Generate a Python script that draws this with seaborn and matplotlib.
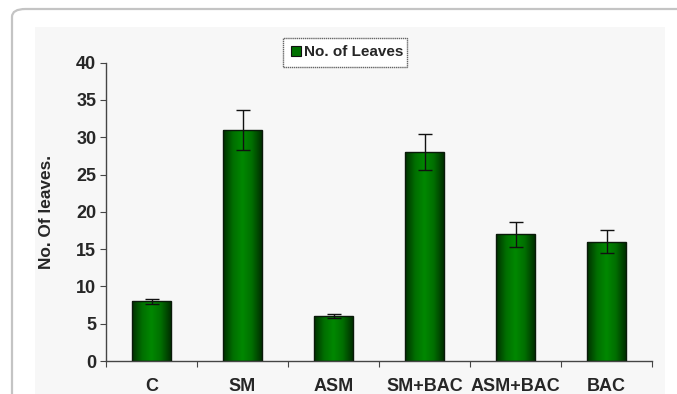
import numpy as np
import pandas as pd
import matplotlib
matplotlib.use("Agg")
import matplotlib.pyplot as plt
import seaborn as sns
from matplotlib.patches import Rectangle, FancyBboxPatch
from matplotlib.colors import LinearSegmentedColormap
from matplotlib.ticker import MultipleLocator, FixedLocator

# data
groups = ["C", "SM", "ASM", "SM+BAC", "ASM+BAC", "BAC"]
leaves = [8.0, 31.0, 6.0, 28.0, 17.0, 16.0]
leaves_err = [0.35, 2.7, 0.3, 2.4, 1.7, 1.55]
series_name = "No. of Leaves"

df = pd.DataFrame({"group": groups, "leaves": leaves})

sns.set_style("white")
plt.rcParams["font.family"] = ["Liberation Sans", "DejaVu Sans"]
plt.rcParams["font.weight"] = "bold"

fig = plt.figure(figsize=(6.77, 3.94), dpi=100)
W, H = 677, 394

# outer rounded border and light grey plot panel (behind the axes)
fig.patches.append(FancyBboxPatch((12 / W, -0.2), 1.2, (394 - 9) / H + 0.2,
                                  boxstyle="round,pad=0,rounding_size=0.02",
                                  transform=fig.transFigure, facecolor="white",
                                  edgecolor="#c4c4c4", linewidth=1.6, zorder=-2))
fig.patches.append(Rectangle((35 / W, 0), (665 - 35) / W, (394 - 27) / H,
                             transform=fig.transFigure, facecolor="#f7f7f7",
                             edgecolor="none", zorder=-1))

ax = fig.add_axes([106 / W, (H - 361) / H, (652 - 106) / W, (361 - 62.7) / H])
ax.set_facecolor("none")
ax.set_zorder(1)

sns.barplot(data=df, x="group", y="leaves", color="#006400", width=0.42,
            errorbar=None, ax=ax, zorder=2)

# cylinder-like green shading inside each bar
cmap = LinearSegmentedColormap.from_list("cyl", ["#003000", "#006e00", "#008800", "#006e00", "#003000"])
grad = np.linspace(0, 1, 64).reshape(1, -1)
for p in ax.patches:
    x0, w, h = p.get_x(), p.get_width(), p.get_height()
    p.set_facecolor("none")
    p.set_edgecolor("#0a1a0a")
    p.set_linewidth(1.0)
    p.set_zorder(3)
    im = ax.imshow(grad, cmap=cmap, aspect="auto", extent=[x0, x0 + w, 0, h],
                   zorder=2.5, interpolation="bicubic")
    im.set_clip_path(p)

ax.errorbar(range(len(groups)), leaves, yerr=leaves_err, fmt="none",
            ecolor="#111111", elinewidth=1.0, capsize=5, capthick=1.0, zorder=4)

ax.set_xlim(-0.5, 5.5)
ax.set_ylim(0, 40)
ax.yaxis.set_major_locator(MultipleLocator(5))
ax.xaxis.set_minor_locator(FixedLocator(np.arange(-0.5, 6, 1.0)))

for side in ["top", "right"]:
    ax.spines[side].set_visible(False)
for side in ["left", "bottom"]:
    ax.spines[side].set_color("#454545")
    ax.spines[side].set_linewidth(1.0)

ax.tick_params(axis="y", which="major", direction="out", length=4, width=0.8,
               color="#454545", pad=3, labelsize=13, left=True)
ax.tick_params(axis="x", which="major", length=0, pad=12, labelsize=13)
ax.tick_params(axis="x", which="minor", direction="out", length=4, width=0.8,
               color="#454545", bottom=True)
for lab in ax.get_xticklabels() + ax.get_yticklabels():
    lab.set_fontweight("bold")

ax.set_xlabel("")
ax.set_ylabel("No. Of leaves.", fontsize=12.4, fontweight="bold")
ax.yaxis.set_label_coords(-0.095, 0.5)

# legend box
handle = Rectangle((0, 0), 1, 1, facecolor="#007000", edgecolor="#111111", linewidth=0.8)
leg = ax.legend([handle], [series_name], loc="lower left",
                bbox_to_anchor=(0.324, 0.986, 0.227, 0.09), mode="expand",
                borderaxespad=0, frameon=True, fancybox=False, framealpha=1,
                borderpad=0.5, handlelength=0.7, handleheight=0.7,
                handletextpad=0.2, prop={"weight": "bold", "size": 11})
leg.get_frame().set_edgecolor("#666666")
leg.get_frame().set_linewidth(1.0)
leg.get_frame().set_linestyle((0, (1, 0.5)))

fig.savefig("out.png", dpi=100)
